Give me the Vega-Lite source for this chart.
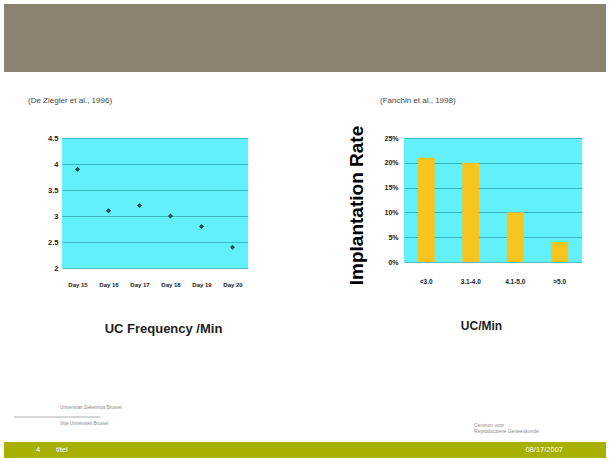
{
  "$schema": "https://vega.github.io/schema/vega-lite/v6.json",
  "background": "#ffffff",
  "padding": {"left": 4, "top": 4, "right": 4, "bottom": 4},
  "spacing": 25,
  "config": {
    "font": "Liberation Sans",
    "view": {"stroke": null},
    "axis": {"labelFont": "Liberation Sans", "titleFont": "Liberation Sans"}
  },
  "vconcat": [
    {
      "width": 544,
      "height": 68,
      "data": {"values": [{"band": "header"}]},
      "mark": {"type": "rect", "color": "#8b8272"},
      "encoding": {
        "x": {"datum": -58, "type": "quantitative", "scale": {"domain": [0, 544]}, "axis": null},
        "x2": {"datum": 544}
      }
    },
    {
      "columns": 2,
      "align": "none",
      "spacing": 99,
      "concat": [
        {
          "width": 186,
          "height": 130,
          "title": {"text": "(De Ziegler et al., 1996)", "anchor": "start", "frame": "group", "dx": -34, "fontSize": 8, "fontWeight": "normal", "color": "#444444", "offset": 29},
          "view": {"fill": "#62f0fa", "stroke": null},
          "data": {"values": [
            {"day": "Day 15", "uc": 3.9},
            {"day": "Day 16", "uc": 3.1},
            {"day": "Day 17", "uc": 3.2},
            {"day": "Day 18", "uc": 3.0},
            {"day": "Day 19", "uc": 2.8},
            {"day": "Day 20", "uc": 2.4}
          ]},
          "mark": {"type": "point", "shape": "diamond", "filled": true, "size": 24, "color": "#0d4b52", "opacity": 1},
          "encoding": {
            "x": {"field": "day", "type": "ordinal", "title": "UC Frequency /Min",
              "axis": {"labelAngle": 0, "labelFontSize": 6, "labelFontWeight": "bold", "labelColor": "#222222", "labelPadding": 13, "ticks": false, "domain": false, "grid": false,
                "titleFontSize": 13, "titleFontWeight": "bold", "titleColor": "#222222", "titlePadding": 35, "titleX": 101}},
            "y": {"field": "uc", "type": "quantitative", "scale": {"domain": [2, 4.5], "zero": false},
              "axis": {"values": [2, 2.5, 3, 3.5, 4, 4.5], "format": "~g", "title": null, "labelFontSize": 7.5, "labelFontWeight": "bold", "labelColor": "#222222", "labelPadding": 4, "ticks": false, "domain": false,
                "gridColor": "#2fa9b3", "gridOpacity": 1, "gridWidth": 0.8}}
          }
        },
        {
          "width": 178,
          "height": 124,
          "title": {"text": "(Fanchin et al., 1998)", "anchor": "start", "frame": "group", "dx": -24, "fontSize": 8, "fontWeight": "normal", "color": "#444444", "offset": 20},
          "view": {"fill": "#62f0fa", "stroke": null},
          "data": {"values": [
            {"uc": "<3.0", "rate": 0.21},
            {"uc": "3.1-4.0", "rate": 0.20},
            {"uc": "4.1-5.0", "rate": 0.10},
            {"uc": ">5.0", "rate": 0.04}
          ]},
          "mark": {"type": "bar", "color": "#f7c51e"},
          "encoding": {
            "x": {"field": "uc", "type": "nominal", "sort": null, "title": "UC/Min",
              "scale": {"paddingInner": 0.62, "paddingOuter": 0.31},
              "axis": {"labelAngle": 0, "labelFontSize": 6.5, "labelFontWeight": "bold", "labelColor": "#222222", "labelPadding": 16, "ticks": false, "domain": false, "grid": false,
                "titleFontSize": 12, "titleFontWeight": "bold", "titleColor": "#222222", "titlePadding": 36, "titleX": 77}},
            "y": {"field": "rate", "type": "quantitative", "scale": {"domain": [0, 0.25]},
              "axis": {"values": [0, 0.05, 0.1, 0.15, 0.2, 0.25], "format": ".0%", "title": "Implantation Rate",
                "titleFontSize": 19, "titleFontWeight": "bold", "titleColor": "#000000", "titlePadding": 17, "titleY": 67,
                "labelFontSize": 7, "labelFontWeight": "bold", "labelColor": "#222222", "labelPadding": 6, "ticks": false, "domain": false,
                "gridColor": "#2fa9b3", "gridOpacity": 1, "gridWidth": 0.8}}
          }
        }
      ]
    },
    {
      "spacing": 0,
      "vconcat": [
        {
          "width": 544,
          "height": 82,
          "data": {"values": [{"a": "Universitair Ziekenhuis Brussel", "b": "Vrije Universiteit Brussel", "c": "Centrum voor", "d": "Reproductieve Geneeskunde"}]},
          "layer": [
            {
              "mark": {"type": "text", "align": "left", "baseline": "middle", "fontSize": 4.5, "color": "#8a8a8a"},
              "encoding": {
                "text": {"field": "a"},
                "x": {"datum": -2, "type": "quantitative", "scale": {"domain": [0, 544]}, "axis": null},
                "y": {"datum": 48, "type": "quantitative", "scale": {"domain": [82, 0]}, "axis": null}
              }
            },
            {
              "mark": {"type": "text", "align": "left", "baseline": "middle", "fontSize": 4.5, "color": "#8a8a8a"},
              "encoding": {
                "text": {"field": "b"},
                "x": {"datum": -2, "type": "quantitative", "scale": {"domain": [0, 544]}, "axis": null},
                "y": {"datum": 64, "type": "quantitative", "scale": {"domain": [82, 0]}, "axis": null}
              }
            },
            {
              "mark": {"type": "text", "align": "left", "baseline": "middle", "fontSize": 5, "color": "#8a8a8a"},
              "encoding": {
                "text": {"field": "c"},
                "x": {"datum": 412, "type": "quantitative", "scale": {"domain": [0, 544]}, "axis": null},
                "y": {"datum": 65, "type": "quantitative", "scale": {"domain": [82, 0]}, "axis": null}
              }
            },
            {
              "mark": {"type": "text", "align": "left", "baseline": "middle", "fontSize": 5, "color": "#8a8a8a"},
              "encoding": {
                "text": {"field": "d"},
                "x": {"datum": 412, "type": "quantitative", "scale": {"domain": [0, 544]}, "axis": null},
                "y": {"datum": 71, "type": "quantitative", "scale": {"domain": [82, 0]}, "axis": null}
              }
            },
            {
              "mark": {"type": "rule", "color": "#999999", "strokeWidth": 0.8},
              "encoding": {
                "x": {"datum": -48, "type": "quantitative", "scale": {"domain": [0, 544]}, "axis": null},
                "x2": {"datum": 38},
                "y": {"datum": 57, "type": "quantitative", "scale": {"domain": [82, 0]}, "axis": null}
              }
            }
          ]
        },
        {
          "width": 544,
          "height": 16,
          "data": {"values": [{"page": "4", "label": "titel", "date": "08/17/2007"}]},
          "layer": [
            {
              "mark": {"type": "rect", "color": "#a8b000"},
              "encoding": {
                "x": {"datum": -58, "type": "quantitative", "scale": {"domain": [0, 544]}, "axis": null},
                "x2": {"datum": 544}
              }
            },
            {
              "mark": {"type": "text", "align": "left", "fontSize": 7.5, "color": "#ffffff"},
              "encoding": {"text": {"field": "page"}, "x": {"datum": -26, "type": "quantitative", "scale": {"domain": [0, 544]}, "axis": null}}
            },
            {
              "mark": {"type": "text", "align": "left", "fontSize": 7.5, "color": "#ffffff"},
              "encoding": {"text": {"field": "label"}, "x": {"datum": -6, "type": "quantitative", "scale": {"domain": [0, 544]}, "axis": null}}
            },
            {
              "mark": {"type": "text", "align": "right", "fontSize": 7.5, "color": "#ffffff"},
              "encoding": {"text": {"field": "date"}, "x": {"datum": 501, "type": "quantitative", "scale": {"domain": [0, 544]}, "axis": null}}
            }
          ]
        }
      ]
    }
  ]
}
